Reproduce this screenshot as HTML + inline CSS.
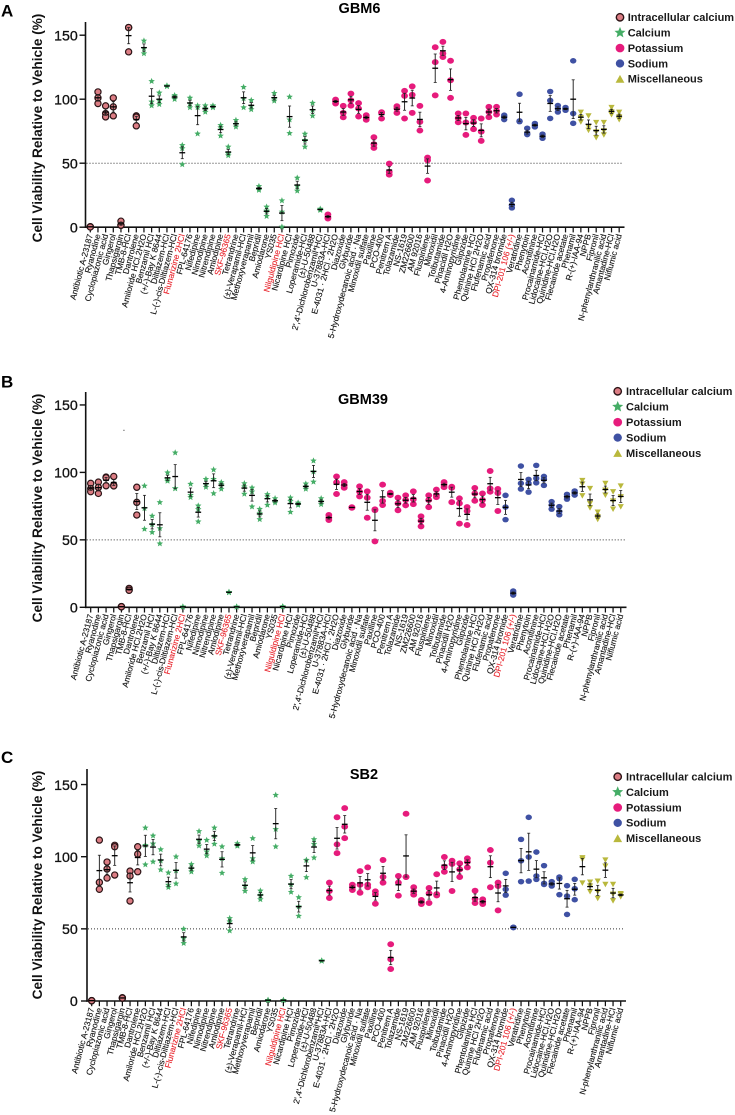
<!DOCTYPE html>
<html lang="en">
<head>
<meta charset="utf-8">
<title>Cell viability screen</title>
<style>
html,body{margin:0;padding:0;background:#fff;}
svg{display:block;font-family:"Liberation Sans",Arial,sans-serif;}
</style>
</head>
<body>
<svg id="figure" xmlns="http://www.w3.org/2000/svg" width="735" height="1115" viewBox="0 0 735 1115"></svg>
<script>
const categories = ["Antibiotic A-23187","Ryanodine","Cyclopiazonic acid","Gingerol","Thapsigargin","TMB-8-HCl","Dantrolene","Amiloride HCl.2H2O","Benzamil HCl","(+/-)-Bay K 8644","Diltiazem-HCl","L-(-)-cis-Diltiazem-HCl","Flunarizine 2HCl","FPL-64176","Nifedipine","Nimodipine","Nitrendipine","Amlodipine","SKF-96365","Tetrandrine","(±)-Verapamil-HCl","Methoxyverapamil","Bepridil","Amiodarone","YS035","Nilguldipine HCl","Nicardipine HCl","Pimozide","Loperamide-HCl","(±)-U-50488","2',4'-Dichlorobenzamil*HCl","U-37883A-HCl","E-4031 · 2HCl · 2H2O","Diazoxide","Glyburide","5-Hydroxydecanoic acid · Na","Minoxidil sulfate","Paxilline","PCO-400","Penitrem A","Tolazamide","NS-1619","ZM226600","AM 92016","Fluspirilene","Minoxidil","Tolbutamide","Pinacidil H2O","4-Aminopyridine","Glipizide","Phentolamine HCl","Quinine HCl 2H2O","Flufenamic acid","Propafenone","QX-314 bromide","DPI-201 106 (+/-)","Veratridine","Phenytoin","Aconitinine","Procainamide-HCl","Lidocaine-HCl.H2O","Quinidine-HCl.H2O","Flecainide acetate","Phenamil","R-(+)-IAA-94","NPPB","Fipronil","N-phenylanthranilic acid","Amantadine-HCl","Niflumic acid"];
const highlightedCategories = ["Flunarizine 2HCl","SKF-96365","Nilguldipine HCl","DPI-201 106 (+/-)"];
const yTicks = [0,50,100,150];
const legendLabels = ["Intracellular calcium","Calcium","Potassium","Sodium","Miscellaneous"];
const classNames = ["intracellular","calcium","potassium","sodium","misc"];
const classCounts = [7,24,23,10,6];

const gbm6Values = [[0.4,0.3,0.2],[105.7,101,96.6],[94.8,88.8,86.2],[101,94,87],[4.7,1.5,1.5],[156,156,137],[87,86,79.2],
[145.6,139.6,135.7],[114,98,95],[105,99,96],[110.5,110.4,110],[103,102,100],[64,61.5,49],[101,96.6,93.5],[95,93.5,73],[95,92.7,90],[95,94,93.5],[79.7,77.9,71.4],[62.8,57.5,56],[83.6,80.5,78.4],[109.4,100.5,93.5],[99.2,94.5,92],[32,30,29],[15.9,12.8,8.6],[104.7,100.3,98.7],[20.8,12,0.3],[101.8,84,73.4],[38.5,32,28.4],[72.9,68,62.8],[97,91.4,87],[14.3,13.8,13.3],
[9.9,8,6.8],[99.7,98.4,96.6],[94.8,89.3,85.9],[104.4,99.2,95],[96.9,92.7,86.5],[87.5,85.7,83.9],[70.3,64.8,62],[89.8,89.3,84.9],[49.7,43.2,41.1],[94.5,92.7,89.3],[106.5,102.6,84.9],[110,103.4,89.3],[94.8,82.3,75.5],[54.4,52.3,36.5],[140.6,129,103],[144.8,135.7,133],[130,114.8,101],[88.8,85.2,82],[88.8,81.8,72.1],[85.4,82,76.6],[84.9,74.7,67.4],[94,90,86],[94,90.9,88],
[87.5,86.2,84.1],[21,17.2,15.1],[103.9,83,82.5],[77.3,73.2,72.4],[81,79.7,78.4],[72.7,71,69.5],[106,99,85],[95,92.7,90],[93.5,92.4,91.4],[130,88.8,81.2],
[89.8,85.7,82.3],[87,78.4,75.8],[81.8,74.5,70],[81.8,75.3,72.1],[93.5,90.1,88],[89.8,86.2,84.1]];

const gbm39Values = [[91.9,88,85.7],[92.8,88.9,84.4],[96.5,96,90.1],[97,90.6,90],[0.5,0.4,0.4],[14,12.8,12.6],[89,77.8,68.4],
[90,73.3,58],[67.7,61.5,55.6],[77.8,58.5,47.2],[99.8,94.6,93.6],[114.6,88.1,88.1],[0.4,0.3,0.3],[91.4,83.2,81.5],[75.3,72.6,63.5],[95,91,89.1],[102,95,84.4],[92.6,91.1,87.7],[11.3,11.1,11],[0.4,0.3,0.3],[91.8,89.4,84],[88.6,85.7,74.6],[72.8,69.6,65.2],[83.7,82,75.8],[80.7,78.8,77.5],[0.6,0.5,0.5],[81.2,78.8,70.6],[77.5,76.5,75.8],[91.6,89.4,87.7],[108.6,100.5,93],[80.7,78.3,76.3],
[68.4,66.4,64.7],[97,92.6,84],[92.8,90.6,88.6],[74.2,74,73.8],[89.6,85.7,82.2],[85.9,81.2,66.4],[72.6,72,48.9],[90.9,78.8,75.8],[84.9,84,83.2],[81.2,77,71.9],[83,79.5,75.6],[85.9,80,76.5],[67.4,64.2,60],[83,79.5,74.3],[87.2,83.2,81.7],[92.8,90.9,89.1],[89.4,88.6,78],[80.7,77,62],[74.3,71.4,61],[88.4,84.4,79],[84.4,79.5,75.8],[101,88.1,85.7],[87.7,84.7,71.4],
[83,74.3,65],[12,10.4,9.1],[104.7,91.9,87.7],[94.8,91.9,85.4],[105.2,95.6,92.3],[97,95,90.4],[78.3,75.8,72.8],[74.6,70.9,68.6],[83.7,82,80.2],[86.2,84.9,83.2],
[94,91.4,82.7],[88.1,77,73.8],[70.6,67.2,65.2],[91.9,86.9,83.2],[85.7,78.8,72.8],[89.9,82,74.6]];

const sb2Values = [[0.3,0.2,0.2],[111.5,82.2,77.4],[96.3,91.5,85.2],[107.9,106.9,87.3],[2.3,2,2],[90,86.6,69.3],[106.9,101.8,89.6],
[120,108,94.5],[114.5,109,96.5],[105,97.2,91],[88.9,80.4,78.8],[100,90.3,81.3],[49.9,43.4,40],[94.7,91.9,89.6],[117.6,111,107.6],[111.5,103.5,100.7],[120,114.3,108.8],[107,98.8,88.7],[57.3,55,48.7],[109.2,108,107.4],[84.3,79.9,76.2],[112.7,98.8,96.5],[76.4,73.4,70.4],[0.6,0.5,0.5],[142.7,119,107],[0.6,0.5,0.5],[86.6,80.8,75.5],[71.8,65.4,58.9],[97.7,97.5,85.7],[112,108.8,99.3],[28,27.9,27.7],
[82,76.2,71.4],[127.3,108.5,102.5],[133.7,120.8,112.9],[80.6,78.8,76.9],[90,80.6,75],[92.6,80.6,78.8],[76,74.1,67.4],[97.7,85.9,82],[39.3,28.9,22.2],[86.6,82,73],[129.8,85.9,85.9],[78.8,75.8,73.7],[70,68.6,67.2],[78.3,74.6,67.9],[87.8,74.1,73.2],[99.8,93,89.6],[97.2,95,76.2],[95.4,91.2,85.9],[98.8,96.5,92.6],[76.4,70.7,67.9],[70.4,68.8,67.2],[104.6,95.8,78.8],[82,79.7,62.8],
[88.5,77.4,73.4],[51.1,51,50.9],[112,97.2,82.7],[127.3,99.8,83.1],[103.2,86.6,84.3],[93.8,81.5,80.8],[82.7,81,79.7],[85.9,84.8,73.7],[79.9,72.7,60],[84.3,77.8,70.2],
[99.3,98.2,81.8],[82.4,79.7,75.8],[83.1,75.8,71.1],[97.7,93.5,80.8],[80.8,74.1,69.5],[74.4,73.7,72.3]];

const NS = "http://www.w3.org/2000/svg";
const figure = document.getElementById("figure");
const COLORS = {intracellular:"#dc7d84",calcium:"#45ad66",potassium:"#e61b7c",sodium:"#3f51a3",misc:"#b9b83c"};

function mk(parent, tag, attrs, text) {
  const el = document.createElementNS(NS, tag);
  for (const k in attrs) el.setAttribute(k, attrs[k]);
  if (text !== undefined) el.textContent = text;
  parent.appendChild(el);
  return el;
}
function classOf(i) {
  let n = 0;
  for (let c = 0; c < classCounts.length; c++) {
    n += classCounts[c];
    if (i < n) return classNames[c];
  }
  return classNames[classNames.length - 1];
}
function starPoints(cx, cy, R) {
  const pts = [];
  for (let k = 0; k < 10; k++) {
    const r = k % 2 ? R * 0.45 : R;
    const a = -Math.PI / 2 + k * Math.PI / 5;
    pts.push((cx + r * Math.cos(a)).toFixed(2) + "," + (cy + r * Math.sin(a)).toFixed(2));
  }
  return pts.join(" ");
}
function drawMarker(parent, cls, cx, cy, legend) {
  let el;
  if (cls === "intracellular") {
    el = mk(parent, "circle", {cx:cx, cy:cy, r:(legend ? 3.7 : 3.1), fill:COLORS.intracellular, stroke:"#2b1416", "stroke-width":(legend ? 1.4 : 1.2)});
  } else if (cls === "calcium") {
    el = mk(parent, "polygon", {points:starPoints(cx, cy, legend ? 5.8 : 3.4), fill:COLORS.calcium});
  } else if (cls === "potassium") {
    el = mk(parent, "ellipse", {cx:cx, cy:cy, rx:(legend ? 4.4 : 3.4), ry:(legend ? 4.3 : 3), fill:COLORS.potassium});
  } else if (cls === "sodium") {
    el = mk(parent, "ellipse", {cx:cx, cy:cy, rx:(legend ? 4.2 : 3.2), ry:(legend ? 4.1 : 2.8), fill:COLORS.sodium});
  } else if (legend) {
    el = mk(parent, "polygon", {points:(cx-4.4)+","+(cy+3.8)+" "+(cx+4.4)+","+(cy+3.8)+" "+cx+","+(cy-4), fill:COLORS.misc});
  } else {
    el = mk(parent, "polygon", {points:(cx-3.1)+","+(cy-2.6)+" "+(cx+3.1)+","+(cy-2.6)+" "+cx+","+(cy+2.9), fill:COLORS.misc});
  }
  return el;
}
function mean(a) { return a.reduce((p, c) => p + c, 0) / a.length; }
function sem(a) {
  const m = mean(a);
  return Math.sqrt(a.reduce((p, c) => p + (c - m) * (c - m), 0) / (a.length - 1)) / Math.sqrt(a.length);
}

function drawPanel(p) {
  const panel = mk(figure, "g", {});
  
  
  const y = v => p.y0 - v * p.pxPerUnit;
  const x = i => p.x0 + i * p.step;

  const letter = mk(panel, "text", {x:1, y:p.letterY, "font-size":17, "font-weight":"bold", fill:"#000"}, p.letter);
  
  

  const title = mk(panel, "text", {x:p.titleX, y:p.titleY, "font-size":14.5, "font-weight":"bold", "text-anchor":"middle", fill:"#000"}, p.title);
  
  

  const yTitle = mk(panel, "text", {transform:"translate(42," + p.yTitleMid + ") rotate(-90)", "font-size":13.6, "font-weight":"bold", "text-anchor":"middle", fill:"#111"}, "Cell Viability Relative to Vehicle (%)");
  
  

  const refLine = mk(panel, "line", {x1:p.axisX + 1, x2:p.xEnd - 1, y1:y(50), y2:y(50), stroke:"#333", "stroke-width":1, "stroke-dasharray":"1 2"});
  
  

  const yAxis = mk(panel, "line", {x1:p.axisX, x2:p.axisX, y1:p.top, y2:p.y0 + 0.8, stroke:"#111", "stroke-width":1.6});
  
  

  const xAxis = mk(panel, "line", {x1:p.axisX - 0.7, x2:p.xEnd, y1:p.y0, y2:p.y0, stroke:"#111", "stroke-width":1.6});
  
  

  yTicks.forEach(t => {
    const tick = mk(panel, "line", {x1:p.axisX - 6, x2:p.axisX, y1:y(t), y2:y(t), stroke:"#111", "stroke-width":1.4});
    
    
    const lab = mk(panel, "text", {x:77.8, y:y(t) + 5.2, "font-size":14.2, "text-anchor":"end", fill:"#111", stroke:"#111", "stroke-width":0.3}, String(t));
    
    
  });

  categories.forEach((name, i) => {
    const tick = mk(panel, "line", {x1:x(i), x2:x(i), y1:p.y0, y2:p.y0 + 5.2, stroke:"#111", "stroke-width":1.25});
    
    
    const red = highlightedCategories.includes(name);
    const ax = x(i) + 2.6;
    const ay = p.y0 + 7.8;
    const color = red ? "#e8242c" : "#111";
    const lab = mk(panel, "text", {transform:"translate(" + ax.toFixed(2) + "," + ay + ") rotate(-75)", "font-size":8.4, "text-anchor":"end", fill:color, stroke:color, "stroke-width":0.12}, name);
    
    
  });

  p.values.forEach((vals, i) => {
    const cls = classOf(i);
    const g = mk(panel, "g", {});
    
    
    vals.forEach(v => {
      const pt = drawMarker(g, cls, x(i), y(v), false);
      
      
    });
    const m = mean(vals);
    const e = sem(vals);
    const bar = mk(g, "line", {x1:x(i), x2:x(i), y1:y(m - e), y2:y(m + e), stroke:"#222", "stroke-width":0.95});
    
    
    const capHigh = mk(g, "line", {x1:x(i) - 1.5, x2:x(i) + 1.5, y1:y(m + e), y2:y(m + e), stroke:"#222", "stroke-width":0.8});
    
    
    const capLow = mk(g, "line", {x1:x(i) - 1.5, x2:x(i) + 1.5, y1:y(m - e), y2:y(m - e), stroke:"#222", "stroke-width":0.8});
    
    
    const meanLine = mk(g, "line", {x1:x(i) - 2.9, x2:x(i) + 2.9, y1:y(m), y2:y(m), stroke:"#000", "stroke-width":1.3});
    
    
  });

  legendLabels.forEach((label, k) => {
    const ly = p.legendY + k * p.legendStep;
    const mark = drawMarker(panel, classNames[k], p.legendMarkX, ly, true);
    
    
    const txt = mk(panel, "text", {x:p.legendTextX, y:ly + 3.8, "font-size":11, "font-weight":"bold", fill:"#1a1a1a"}, label);
    
    
  });
}

drawPanel({letter:"A", title:"GBM6", values:gbm6Values, axisX:85.5, x0:90.3, step:7.665, xEnd:624.5, y0:227.2, pxPerUnit:1.28, top:22, letterY:16.5, titleX:359.5, titleY:13, yTitleMid:128, legendMarkX:620, legendTextX:627.7, legendY:17.3, legendStep:15.4});
drawPanel({letter:"B", title:"GBM39", values:gbm39Values, axisX:85.7, x0:90.7, step:7.682, xEnd:626.5, y0:607.3, pxPerUnit:1.349, top:392, letterY:387.5, titleX:363, titleY:404, yTitleMid:508, legendMarkX:617.7, legendTextX:626, legendY:391.3, legendStep:15.45});
drawPanel({letter:"C", title:"SB2", values:sb2Values, axisX:87, x0:91.7, step:7.667, xEnd:626, y0:1001, pxPerUnit:1.443, top:769, letterY:763, titleX:364, titleY:779, yTitleMid:885, legendMarkX:617.7, legendTextX:626, legendY:776.7, legendStep:15.4});

const stray = mk(figure, "line", {x1:123, x2:124.8, y1:430.2, y2:430.2, stroke:"#555", "stroke-width":0.7});


</script>
</body>
</html>
